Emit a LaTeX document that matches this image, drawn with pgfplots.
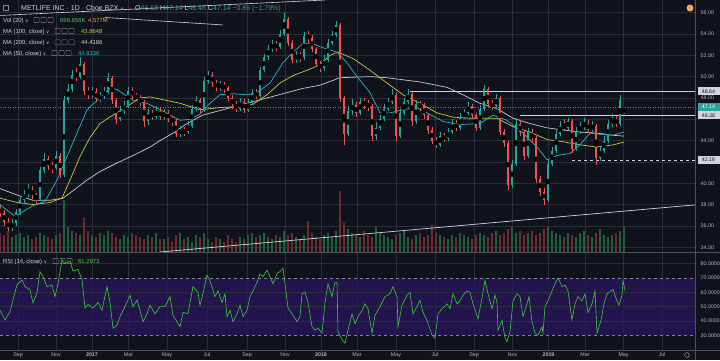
\documentclass[border=0pt]{standalone}
\usepackage{fontspec}
\setmainfont{Liberation Sans}
\newfontfamily\djv{DejaVu Sans}
\usepackage{pgfplots}
\usepackage{pgfplotstable}
\pgfplotsset{compat=1.18}
\definecolor{bg}{HTML}{10131B}
\definecolor{gridc}{HTML}{2A2E3A}
\definecolor{txt}{HTML}{B2B5BE}
\definecolor{hdrc}{HTML}{D1D4DC}
\definecolor{upc}{HTML}{26A69A}
\definecolor{dnc}{HTML}{EF5350}
\definecolor{vup}{HTML}{1E5E3C}
\definecolor{vdn}{HTML}{6E2A30}
\definecolor{ma50}{HTML}{2BB3C8}
\definecolor{ma100}{HTML}{C8C83C}
\definecolor{ma200}{HTML}{C8CBD3}
\definecolor{rsic}{HTML}{3CCB3C}
\definecolor{band}{HTML}{2A155E}
\definecolor{sep}{HTML}{50535E}
\definecolor{orng}{HTML}{F7A35C}
\definecolor{valgreen}{HTML}{4CC36A}

\pgfplotstableread{
x o h l c v
0 37.6 38.0 36.8 37.2 9
4 37.2 37.5 36.0 36.4 8
8 36.4 36.7 35.5 35.8 10
12 35.8 36.6 35.5 36.3 7
16 36.3 37.6 36.0 37.3 8
20 37.3 38.7 37.0 38.4 9
24 38.4 39.4 38.1 39.0 7
28 39.0 39.9 38.7 39.4 8
32 39.4 39.7 38.5 38.9 6
36 38.9 39.1 38.1 38.5 7
40 38.5 41.5 38.3 41.2 9
44 41.2 42.8 41.0 42.3 8
48 42.3 42.6 41.2 41.6 7
52 41.6 42.0 41.0 41.4 6
56 41.4 43.0 41.2 42.6 8
60 42.6 42.8 40.5 40.8 9
64 40.8 48.2 40.6 47.8 25
68 47.8 49.3 47.5 48.8 12
72 48.8 50.6 48.6 50.2 10
76 50.2 50.8 49.6 50.0 9
80 50.0 51.8 49.8 51.2 8
84 51.2 51.4 48.3 48.7 16
88 48.7 49.0 47.9 48.3 10
92 48.3 49.0 48.0 48.6 8
96 48.6 48.9 47.6 47.9 7
100 47.9 48.6 47.6 48.2 9
104 48.2 49.0 47.9 48.6 8
108 48.6 50.3 48.4 49.9 10
112 49.9 50.1 47.4 47.8 9
116 47.8 48.0 45.6 46.0 7
120 46.0 47.2 45.8 46.8 6
124 46.8 47.7 46.5 47.3 8
128 47.3 49.0 47.1 48.7 7
132 48.7 49.0 47.9 48.2 9
136 48.2 48.5 47.7 48.0 8
140 48.0 48.3 47.2 47.6 7
144 47.6 47.8 45.3 45.8 6
148 45.8 47.0 45.5 46.6 8
152 46.6 46.9 45.9 46.2 7
156 46.2 47.2 46.0 46.8 9
160 46.8 47.1 45.9 46.2 6
164 46.2 47.0 45.9 46.6 6
168 46.6 46.9 45.7 46.0 7
172 46.0 46.3 45.4 45.8 5
176 45.8 46.0 44.3 44.6 8
180 44.6 45.4 44.3 45.0 9
184 45.0 45.3 44.4 44.8 6
188 44.8 45.8 44.6 45.4 7
192 45.4 47.3 45.2 47.0 5
196 47.0 48.2 46.8 47.8 8
200 47.8 48.0 46.6 46.9 7
204 46.9 50.0 46.7 49.6 9
208 49.6 50.5 49.3 50.2 6
212 50.2 50.4 49.0 49.4 5
216 49.4 49.7 48.7 49.0 7
220 49.0 49.6 48.7 49.2 6
224 49.2 49.5 48.5 48.9 5
228 48.9 49.1 47.7 48.0 8
232 48.0 48.3 47.0 47.4 6
236 47.4 47.7 46.7 47.0 5
240 47.0 48.0 46.8 47.6 7
244 47.6 47.9 46.6 46.9 6
248 46.9 47.9 46.7 47.5 8
252 47.5 48.8 47.3 48.5 9
256 48.5 48.8 47.9 48.2 7
260 48.2 50.9 48.0 50.6 8
264 50.6 52.1 50.4 51.8 9
268 51.8 53.0 51.6 52.6 7
272 52.6 53.4 52.3 53.0 6
276 53.0 53.3 52.4 52.8 8
280 52.8 54.4 52.6 54.0 7
284 54.0 56.0 53.8 55.4 10
288 55.4 55.6 52.9 53.2 8
292 53.2 53.4 51.3 51.6 9
296 51.6 52.4 51.3 52.0 7
300 52.0 52.3 51.4 51.8 6
304 51.8 54.2 51.6 53.8 8
308 53.8 54.3 53.2 53.6 15
312 53.6 53.9 52.3 52.6 9
316 52.6 52.8 50.9 51.2 7
320 51.2 51.5 50.4 50.8 6
324 50.8 52.0 50.5 51.6 8
328 51.6 53.5 51.4 53.2 9
332 53.2 54.3 53.0 53.9 7
336 53.9 55.2 53.7 54.8 10
340 54.8 55.0 47.6 48.0 29
344 48.0 48.2 43.6 44.6 14
348 44.6 47.2 44.4 46.8 11
352 46.8 47.9 46.4 47.3 9
356 47.3 47.6 46.2 46.6 8
360 46.6 48.0 46.4 47.6 7
364 47.6 48.0 47.0 47.4 10
368 47.4 47.8 46.8 47.2 8
372 47.2 47.4 44.0 44.4 7
376 44.4 45.7 44.1 45.2 12
380 45.2 46.4 45.0 46.0 9
384 46.0 47.4 45.8 47.0 8
388 47.0 48.0 46.8 47.6 7
392 47.6 48.8 47.4 48.3 6
396 48.3 48.5 44.0 44.4 8
400 44.4 47.0 44.2 46.6 9
404 46.6 48.0 46.4 47.6 10
408 47.6 48.8 47.4 48.4 7
412 48.4 48.6 45.4 45.8 6
416 45.8 47.8 45.6 47.4 8
420 47.4 47.7 46.8 47.2 9
424 47.2 47.5 46.0 46.4 7
428 46.4 46.6 44.6 45.0 8
432 45.0 45.3 43.7 44.0 13
436 44.0 44.3 43.3 43.6 9
440 43.6 44.8 43.4 44.4 8
444 44.4 44.7 43.9 44.2 7
448 44.2 45.2 44.0 44.8 6
452 44.8 46.0 44.6 45.6 8
456 45.6 45.9 44.9 45.2 7
460 45.2 46.6 45.0 46.2 9
464 46.2 47.0 46.0 46.6 8
468 46.6 47.6 46.4 47.2 7
472 47.2 47.4 46.1 46.4 6
476 46.4 46.6 44.9 45.2 8
480 45.2 47.3 45.0 47.0 9
484 47.0 49.2 46.8 48.8 8
488 48.8 49.0 47.1 47.4 7
492 47.4 47.8 46.9 47.2 9
496 47.2 48.4 47.0 48.0 10
500 48.0 48.2 44.5 44.8 8
504 44.8 45.1 43.4 43.8 9
508 43.8 44.0 39.4 39.8 11
512 39.8 42.2 39.6 41.8 12
516 41.8 46.1 41.6 45.6 9
520 45.6 45.9 44.4 44.8 10
524 44.8 45.0 42.2 42.6 8
528 42.6 45.2 42.4 44.8 9
532 44.8 45.1 43.8 44.2 10
536 44.2 44.4 40.0 40.4 8
540 40.4 40.7 38.8 39.2 9
544 39.2 39.6 38.0 38.4 11
548 38.4 42.2 38.2 41.8 12
552 41.8 43.4 41.6 43.0 10
556 43.0 45.0 42.8 44.6 9
560 44.6 45.8 44.4 45.4 8
564 45.4 46.0 44.9 45.2 7
568 45.2 46.1 45.0 45.8 9
572 45.8 46.0 42.8 43.2 8
576 43.2 45.3 43.0 44.9 7
580 44.9 45.7 44.6 45.3 9
584 45.3 46.1 45.0 45.6 10
588 45.6 45.9 44.7 45.0 8
592 45.0 45.8 44.8 45.4 7
596 45.4 45.6 41.7 42.4 9
600 42.4 43.5 42.1 43.0 11
604 43.0 44.4 42.8 44.0 8
608 44.0 45.9 43.8 45.6 7
612 45.6 46.5 45.3 46.0 8
616 46.0 46.3 45.3 45.6 9
620 45.6 48.3 45.4 47.8 10
624 46.68 47.14 46.46 47.14 12
}\candles

\newcommand{\hdr}{\fontsize{7}{8}\selectfont}
\newcommand{\leg}{\fontsize{5.9}{7}\selectfont}
\newcommand{\tck}{\fontsize{5.3}{6}\selectfont}
\newcommand{\chev}{{\djv\fontsize{4.5}{5}\selectfont ∨}}
\newcommand{\icons}[2]{%
  \foreach \k in {0,1,2} {\draw[txt!70!bg, line width=0.4pt, rounded corners=0.6pt] (#1+\k*7,#2-2.6) rectangle ++(5.2,5.2);}}

\pgfplotsset{
  paneX/.style={
    xmin=0, xmax=695,
    xtick={18,56,92,128.5,167,207,247,285,321,357,396,435,474,512.5,548.5,585,623.5,662},
  },
}

\begin{document}
\begin{tikzpicture}[x=1pt,y=1pt]
\useasboundingbox (0,0) rectangle (720,360);
\fill[bg] (0,0) rectangle (720,360);

% ---------- price pane: grid and scale ----------
\begin{axis}[at={(0pt,108pt)}, anchor=south west, scale only axis,
  width=695pt, height=252pt, paneX, ymin=33.55, ymax=57.19,
  axis line style={draw=none}, tick style={draw=none},
  xticklabels={}, ytick={34,36,38,40,44,48,50,52,54,56},
  extra y ticks={42,46}, extra y tick labels={},
  extra y tick style={grid=major, tick style={draw=none}},
  yticklabel pos=right,
  yticklabel style={font=\tck, text=txt, anchor=west, inner sep=0pt, xshift=5.5pt},
  /pgf/number format/fixed, /pgf/number format/fixed zerofill,
  /pgf/number format/precision=2, /pgf/number format/assume math mode=true,
  grid=major, major grid style={gridc, line width=0.5pt}]
\addplot[draw=none] coordinates {(0,40)};
\end{axis}

% ---------- volume ----------
\begin{axis}[at={(0pt,108pt)}, anchor=south west, scale only axis,
  width=695pt, height=252pt, xmin=0, xmax=695, ymin=0, ymax=120, hide axis]
\addplot[ycomb, draw=vup, line width=2.6pt, mark=none]
  table[x=x, y expr={\thisrow{c}>=\thisrow{o} ? \thisrow{v} : nan}] {\candles};
\addplot[ycomb, draw=vdn, line width=2.6pt, mark=none]
  table[x=x, y expr={\thisrow{c}<\thisrow{o} ? \thisrow{v} : nan}] {\candles};
\end{axis}

% ---------- price data ----------
\begin{axis}[at={(0pt,108pt)}, anchor=south west, scale only axis,
  width=695pt, height=252pt, xmin=0, xmax=695, ymin=33.55, ymax=57.19, hide axis]
% drawings
\draw[upc, dotted, line width=0.5pt] (axis cs:0,47.14) -- (axis cs:695,47.14);
\draw[hdrc, line width=0.7pt] (axis cs:410,48.64) -- (axis cs:695,48.64);
\draw[hdrc, line width=0.7pt] (axis cs:520,46.38) -- (axis cs:695,46.38);
\draw[hdrc, line width=0.7pt, dashed] (axis cs:572,42.16) -- (axis cs:695,42.16);
\draw[hdrc, line width=0.7pt] (axis cs:160,33.55) -- (axis cs:695,37.97);
\draw[hdrc, line width=0.6pt] (axis cs:105,55.55) -- (axis cs:223,54.85);
\draw[hdrc, line width=0.6pt] (axis cs:0,55.74) -- (axis cs:325,57.19);
% moving averages
\addplot[ma200, line width=0.7pt] coordinates {(0,39.5)(17,38.9)(33,38.4)(50,38.4)(63,38.6)(73,39.3)(87,40.3)(100,41.1)(117,41.9)(133,42.6)(150,43.4)(160,44.0)(173,44.7)(187,45.6)(203,46.4)(227,47.0)(247,47.5)(267,48.0)(287,48.5)(303,48.9)(320,49.2)(340,49.9)(370,50.0)(387,49.9)(420,49.5)(447,49.0)(463,48.3)(480,47.5)(497,47.0)(513,46.1)(530,45.6)(547,45.2)(563,45.0)(580,44.8)(597,44.7)(613,44.5)(624,44.42)};
\addplot[ma100, line width=0.7pt] coordinates {(0,38.6)(17,38.2)(33,38.0)(50,38.2)(62,38.6)(70,40.3)(80,42.5)(90,44.3)(100,45.6)(113,46.4)(127,47.2)(140,48.0)(150,48.1)(160,47.9)(180,47.5)(200,46.9)(220,47.1)(240,47.2)(253,47.4)(267,48.3)(280,49.4)(293,50.1)(307,50.6)(320,51.1)(330,52.0)(338,52.3)(353,51.7)(370,50.6)(387,49.4)(403,48.3)(420,47.5)(437,46.6)(453,46.2)(470,46.1)(497,46.1)(513,45.3)(530,44.8)(547,44.1)(563,43.9)(580,43.6)(597,43.4)(613,43.6)(624,43.86)};
\addplot[ma50, line width=0.7pt] coordinates {(0,38.0)(15,36.9)(33,37.9)(45,38.3)(57,40.3)(67,42.5)(77,44.7)(87,46.9)(100,48.0)(110,48.9)(117,48.8)(133,47.8)(147,47.5)(160,46.9)(180,45.9)(190,46.0)(200,46.5)(210,47.5)(220,48.3)(233,48.4)(247,48.3)(257,48.5)(270,49.4)(283,51.3)(293,52.3)(303,53.1)(313,53.1)(320,52.8)(337,52.3)(347,51.3)(357,50.0)(370,48.5)(380,46.6)(390,46.6)(403,46.9)(417,47.1)(427,46.6)(443,45.8)(460,45.5)(480,45.6)(493,46.4)(507,45.9)(523,44.7)(537,43.4)(547,42.2)(557,42.6)(570,42.8)(580,43.6)(590,44.7)(600,44.6)(613,44.5)(624,44.81)};
% candles: wicks
\addplot[only marks, mark=none, error bars/.cd, y dir=both, y explicit, error mark=none,
  error bar style={draw=upc, line width=0.6pt}]
  table[x=x, y expr={\thisrow{c}>=\thisrow{o} ? (\thisrow{h}+\thisrow{l})/2 : nan},
        y error expr={(\thisrow{h}-\thisrow{l})/2}] {\candles};
\addplot[only marks, mark=none, error bars/.cd, y dir=both, y explicit, error mark=none,
  error bar style={draw=dnc, line width=0.6pt}]
  table[x=x, y expr={\thisrow{c}<\thisrow{o} ? (\thisrow{h}+\thisrow{l})/2 : nan},
        y error expr={(\thisrow{h}-\thisrow{l})/2}] {\candles};
% candles: bodies
\addplot[only marks, mark=none, error bars/.cd, y dir=both, y explicit, error mark=none,
  error bar style={draw=upc, line width=2.6pt}]
  table[x=x, y expr={\thisrow{c}>=\thisrow{o} ? (\thisrow{o}+\thisrow{c})/2 : nan},
        y error expr={abs(\thisrow{c}-\thisrow{o})/2}] {\candles};
\addplot[only marks, mark=none, error bars/.cd, y dir=both, y explicit, error mark=none,
  error bar style={draw=dnc, line width=2.6pt}]
  table[x=x, y expr={\thisrow{c}<\thisrow{o} ? (\thisrow{o}+\thisrow{c})/2 : nan},
        y error expr={abs(\thisrow{c}-\thisrow{o})/2}] {\candles};
\end{axis}

% ---------- RSI pane ----------
\begin{axis}[at={(0pt,10pt)}, anchor=south west, scale only axis,
  width=695pt, height=97pt, paneX, ymin=19.7, ymax=87.5,
  axis line style={draw=none}, tick style={draw=none},
  xticklabels={Sep,Nov,\textbf{2017},Mar,May,Jul,Sep,Nov,\textbf{2018},Mar,May,Jul,Sep,Nov,\textbf{2019},Mar,May,Jul},
  xticklabel style={font=\tck, text=txt, anchor=north, inner sep=0pt, yshift=-2.6pt},
  ytick={30,40,...,80}, yticklabel pos=right,
  yticklabel style={font=\tck, text=txt, anchor=west, inner sep=0pt, xshift=5.5pt},
  /pgf/number format/fixed, /pgf/number format/fixed zerofill,
  /pgf/number format/precision=4, /pgf/number format/assume math mode=true,
  xmajorgrids, major grid style={gridc, line width=0.5pt}]
\fill[band, fill opacity=0.75] (axis cs:0,30) rectangle (axis cs:695,70);
\draw[gridc, line width=0.5pt] (axis cs:0,40) -- (axis cs:695,40);
\draw[gridc, line width=0.5pt] (axis cs:0,50) -- (axis cs:695,50);
\draw[gridc, line width=0.5pt] (axis cs:0,60) -- (axis cs:695,60);
\draw[gridc, line width=0.5pt] (axis cs:0,80) -- (axis cs:695,80);
\draw[txt!70!bg, dashed, line width=0.5pt] (axis cs:0,70) -- (axis cs:695,70);
\draw[txt!70!bg, dashed, line width=0.5pt] (axis cs:0,30) -- (axis cs:695,30);
\addplot[rsic, line width=0.6pt] coordinates {(0,47.7)(5,40.7)(10,46.5)(13,54.7)(17,65.2)(22,68.7)(25,64)(30,61.7)(33,52.6)(37,59.6)(40,74.5)(43,71)(47,64)(52,65)(55,57)(58,66)(62,82.7)(65,80)(70,82)(73,75)(78,76)(82,69)(85,49)(88,51.5)(93,49)(98,53)(102,47.5)(107,64)(110,53)(113,35)(117,37)(120,43)(125,50)(130,58)(133,50)(137,54.5)(140,47.5)(143,39.5)(147,45)(150,51)(155,45)(160,50)(165,50)(170,57)(173,44)(177,39.5)(180,36)(183,46)(188,45)(193,64)(198,60)(200,51)(203,59)(207,72)(210,68)(215,57)(218,61)(222,53)(225,59)(227,43)(230,47.5)(233,39.5)(237,45)(240,51)(243,43)(247,47.5)(250,57)(253,61)(257,67)(260,73)(263,71)(267,75.5)(270,71)(273,66)(277,73)(280,74.5)(283,77)(285,66)(288,49)(293,44)(297,39.5)(300,43)(302,59)(305,60)(308,53)(312,36)(315,33.5)(318,35)(322,31.5)(325,53)(328,66)(332,57)(335,67)(337,67)(338,32.5)(342,27)(345,24.5)(348,33.5)(352,45)(355,38)(358,43)(362,47.5)(365,52)(368,48.5)(372,31.5)(375,44)(380,50)(385,57)(390,59)(393,64)(397,57)(398,36)(402,51)(407,58)(410,60)(413,45)(417,50)(420,54.5)(423,46)(427,40.5)(432,30)(435,28)(438,45)(442,48.5)(447,52)(450,48.5)(453,59)(457,52)(460,54)(463,58)(467,61)(470,60)(473,52)(478,41.5)(482,56)(485,68.5)(488,59)(492,48.5)(495,58)(497,53)(498,33.5)(502,40.5)(505,28)(507,25.5)(510,32.5)(513,54)(517,59)(520,57)(523,43)(527,52)(529,57)(532,39.5)(535,31.5)(538,30)(542,36)(543,31.5)(545,50)(548,54)(552,61)(555,66)(558,70)(562,64)(565,65)(568,61)(572,40.5)(575,52)(578,57)(582,54)(585,59)(588,46)(592,52)(595,61)(597,31.5)(601,40.5)(604,52)(607,59)(611,61)(613,62)(617,54)(619,51)(622,58)(623,68.5)(625,61.3)};
\end{axis}

% ---------- separators ----------
\draw[sep, line width=0.6pt] (0,107.5) -- (720,107.5);
\draw[sep, line width=0.6pt] (0,10) -- (720,10);
\draw[sep, line width=0.6pt] (695.5,0) -- (695.5,360);

% ---------- price-scale labels ----------
\node[fill=hdrc, text=bg, font=\tck, inner sep=0.8pt, minimum width=22pt, minimum height=8pt] at (708.5,268.8) {48.64};
\node[fill=upc, text=white, font=\tck, inner sep=0.8pt, minimum width=22pt, minimum height=8pt] at (708.5,252.9) {47.14};
\node[fill=hdrc, text=bg, font=\tck, inner sep=0.8pt, minimum width=22pt, minimum height=8pt] at (708.5,244.8) {46.38};
\node[fill=hdrc, text=bg, font=\tck, inner sep=0.8pt, minimum width=22pt, minimum height=8pt] at (708.5,200.0) {42.16};
\fill[orng] (690,352) circle (3.5);
\draw[txt, line width=0.4pt] (687,5) circle (2.4);

% ---------- header and legends ----------
\draw[txt!70!bg, line width=0.4pt] (3,349.5) rectangle ++(5,5);
\node[anchor=base west, inner sep=0, text=hdrc, font=\hdr] at (21,350) {METLIFE INC · 1D · Cboe BZX \chev};
\node[anchor=base west, inner sep=0, font=\hdr] at (135,350) {\textcolor{hdrc}{O}\textcolor{upc}{46.68} \textcolor{hdrc}{H}\textcolor{upc}{47.14} \textcolor{hdrc}{L}\textcolor{upc}{46.46} \textcolor{hdrc}{C}\textcolor{upc}{47.14} \textcolor{upc}{−0.86 (−1.79\%)}};

\node[anchor=base west, inner sep=0, text=hdrc, font=\leg] at (3,337.8) {Vol (20) \chev};
\icons{34}{340}
\node[anchor=base west, inner sep=0, text=valgreen, font=\leg] at (60,337.8) {696.856K};
\node[anchor=base west, inner sep=0, text=orng, font=\leg] at (88,337.8) {4.577M};

\node[anchor=base west, inner sep=0, text=hdrc, font=\leg] at (3,326.8) {MA (100, close) \chev};
\icons{55}{329}
\node[anchor=base west, inner sep=0, text=ma100, font=\leg] at (81,326.8) {43.8648};

\node[anchor=base west, inner sep=0, text=hdrc, font=\leg] at (3,315.5) {MA (200, close) \chev};
\icons{55}{317.7}
\node[anchor=base west, inner sep=0, text=hdrc, font=\leg] at (81,315.5) {44.4186};

\node[anchor=base west, inner sep=0, text=hdrc, font=\leg] at (3,304.8) {MA (50, close) \chev};
\icons{52}{307}
\node[anchor=base west, inner sep=0, text=ma50, font=\leg] at (78,304.8) {44.8136};

\node[anchor=base west, inner sep=0, text=hdrc, font=\leg] at (3,96.8) {RSI (14, close) \chev};
\icons{53}{99}
\node[anchor=base west, inner sep=0, text=rsic, font=\leg] at (78,96.8) {61.2973};
\end{tikzpicture}
\end{document}
